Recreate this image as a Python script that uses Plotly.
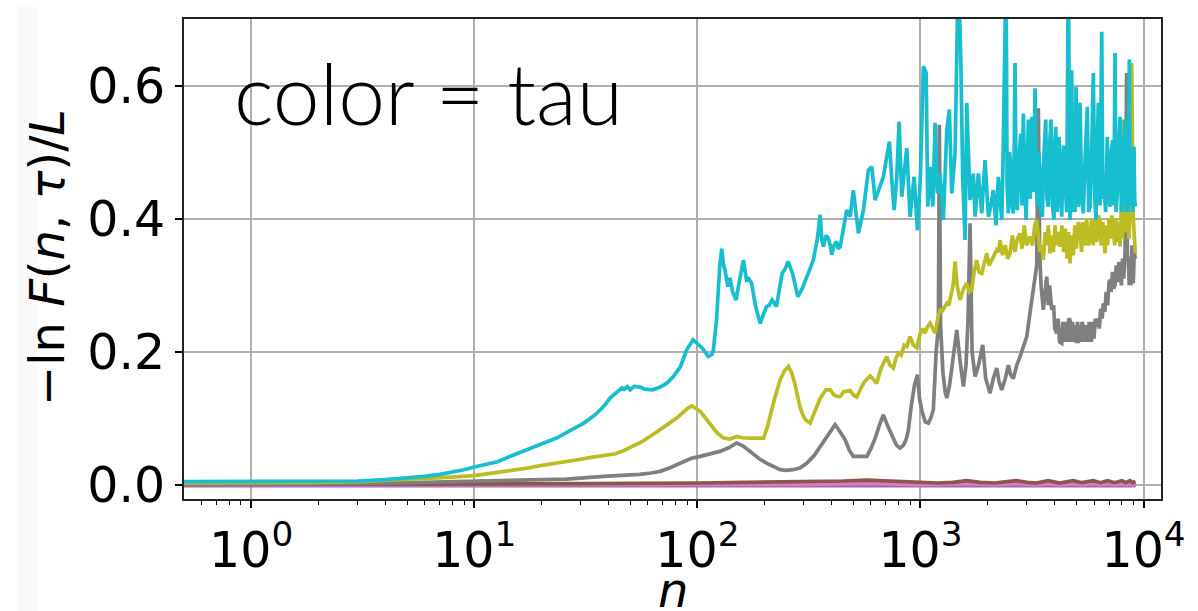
import plotly.graph_objects as go

# ---------------- data ----------------
cyan_n = [0.5, 1, 2, 3, 4, 5, 6, 7, 7.9, 9, 10, 11.3, 12.7, 15, 18, 20, 23.5, 27, 31, 35, 38, 40.7, 43, 45.9, 47, 48.5, 50, 52, 55.6, 58, 63, 68, 73, 78, 84, 89.6, 95.6, 100, 105, 112, 116, 118, 122, 126, 128.6, 131, 133, 137, 140, 144, 149, 155, 161, 166, 170, 175, 182, 191, 197, 204, 210, 216, 226, 233, 240, 248, 255, 267, 282, 295, 308, 320, 331, 345, 355, 361, 367, 377, 386, 394, 400, 410, 420, 428, 437,
          467, 484, 500, 527, 555, 584, 605, 626, 648, 682, 706, 726, 744, 762, 783, 802, 824, 844, 868, 898, 936, 969, 998, 1030, 1060, 1078, 1104, 1135, 1163, 1190, 1224, 1266, 1312, 1347, 1381, 1429, 1478, 1516, 1547, 1584, 1612, 1668, 1726, 1757, 1817, 1882, 1947, 2015, 2070, 2121, 2180, 2234,
          2313, 2340, 2369, 2418, 2445, 2476, 2510, 2546, 2575, 2607, 2630, 2653, 2685, 2717, 2765, 2814, 2850, 2891, 2930, 2973, 3010, 3044, 3100, 3153, 3210, 3262, 3300, 3340, 3390, 3434, 3475, 3517, 3580, 3642, 3690, 3741, 3790, 3847, 3905, 3968, 4000, 4038, 4100, 4178, 4240, 4296, 4370, 4444, 4520, 4598, 4640, 4680, 4720, 4763, 4820, 4877, 4930, 4979, 5040, 5099, 5145, 5190, 5280, 5369, 5480, 5596, 5670, 5754, 5850, 5953, 6040, 6121, 6190, 6266, 6380, 6491, 6570, 6647, 6760, 6877, 6970, 7071, 7170, 7270, 7360, 7445, 7530, 7623, 7730, 7839, 7950, 8060, 8150, 8253, 8350, 8451, 8540, 8627, 8730, 8843, 8950, 9057, 9120, 9180]
cyan_y = [0.005, 0.005, 0.0055, 0.006, 0.008, 0.0105, 0.013, 0.016, 0.019, 0.023, 0.027, 0.031, 0.035, 0.045, 0.056, 0.062, 0.071, 0.082, 0.093, 0.106, 0.118, 0.131, 0.138, 0.146, 0.144, 0.148, 0.143, 0.148, 0.147, 0.144, 0.143, 0.147, 0.153, 0.163, 0.178, 0.203, 0.218, 0.212, 0.206, 0.193, 0.196, 0.203, 0.25, 0.33, 0.355, 0.33, 0.323, 0.298, 0.311, 0.29, 0.278, 0.31, 0.338, 0.308, 0.31, 0.303, 0.27, 0.243, 0.255, 0.268, 0.27, 0.278, 0.268, 0.29, 0.318, 0.325, 0.336, 0.318, 0.283, 0.295, 0.313, 0.325, 0.338, 0.37, 0.406, 0.37, 0.358, 0.375, 0.371, 0.36, 0.346, 0.36, 0.366, 0.355, 0.358,
          0.413, 0.403, 0.443, 0.378, 0.413, 0.473, 0.478, 0.428, 0.443, 0.463, 0.493, 0.516, 0.458, 0.413, 0.463, 0.546, 0.433, 0.463, 0.506, 0.403, 0.463, 0.383, 0.458, 0.629, 0.619, 0.418, 0.478, 0.418, 0.544, 0.438, 0.468, 0.398, 0.533, 0.564, 0.438, 0.498, 0.78, 0.639, 0.458, 0.368, 0.574, 0.428, 0.468, 0.403, 0.468, 0.408, 0.488, 0.403, 0.42, 0.443, 0.39, 0.463,
          0.398, 0.47, 0.673, 0.78, 0.45, 0.408, 0.5, 0.473, 0.42, 0.408, 0.5, 0.634, 0.44, 0.413, 0.49, 0.528, 0.42, 0.558, 0.47, 0.398, 0.47, 0.549, 0.43, 0.553, 0.44, 0.596, 0.47, 0.418, 0.5, 0.473, 0.41, 0.403, 0.5, 0.549, 0.43, 0.418, 0.51, 0.549, 0.42, 0.398, 0.5, 0.538, 0.41, 0.523, 0.44, 0.403, 0.51, 0.468, 0.41, 0.78, 0.46, 0.398, 0.5, 0.623, 0.41, 0.448, 0.41, 0.598, 0.45, 0.418, 0.5, 0.574, 0.43, 0.408, 0.5, 0.568, 0.41, 0.418, 0.5, 0.619, 0.43, 0.398, 0.5, 0.574, 0.42, 0.681, 0.43, 0.448, 0.41, 0.523, 0.44, 0.418, 0.5, 0.518, 0.42, 0.649, 0.41, 0.438, 0.5, 0.553, 0.41, 0.428, 0.5, 0.549, 0.41, 0.448, 0.41, 0.639, 0.42, 0.488, 0.41, 0.508, 0.43, 0.418]

olive_n = [0.5, 1, 2, 3, 5, 7.9, 10, 13.6, 17, 20.5, 25, 29, 34, 38, 43, 47, 51.5, 57, 63, 69, 75, 81, 86.8, 91, 94.5, 98, 103, 109, 116, 123, 131, 140, 150, 160, 172, 185, 198, 205, 211, 222, 235, 246, 256, 265, 273, 280, 288, 297, 305, 320, 335, 355, 377, 394, 410, 425, 437, 452, 467, 484, 500, 518, 540, 560, 595, 615, 637, 665, 690, 706, 730, 756, 775, 796, 820, 845, 868, 898, 930, 962, 998, 1025, 1048, 1075, 1104, 1130, 1163, 1195, 1224, 1255, 1290, 1312, 1340, 1357, 1400, 1429, 1460, 1504, 1560, 1612, 1655, 1697, 1740, 1787, 1830, 1882, 1930, 1982, 2030, 2087, 2140, 2197, 2240, 2274, 2330, 2400, 2460, 2520, 2580, 2650, 2720, 2794, 2850, 2920, 2990, 3097, 3180, 3250, 3319, 3380, 3430, 3490, 3553, 3620, 3680, 3740, 3807, 3870, 3940, 4010, 4080, 4150, 4222, 4300, 4380, 4460, 4540, 4610, 4680, 4760, 4840, 4920, 5000, 5100, 5190, 5270, 5360, 5450, 5560, 5650, 5754, 5850, 5950, 6050, 6160, 6270, 6378, 6450, 6560, 6716, 6800, 6900, 7000, 7100, 7200, 7314, 7420, 7530, 7650, 7750, 7839, 7950, 8050, 8110, 8200, 8300, 8400, 8500, 8600, 8700, 8790, 8843, 8900, 8991, 9100, 9180]
olive_y = [0.003, 0.003, 0.004, 0.005, 0.008, 0.012, 0.014, 0.02, 0.025, 0.03, 0.034, 0.038, 0.042, 0.045, 0.047, 0.052, 0.058, 0.066, 0.0755, 0.084, 0.093, 0.101, 0.1105, 0.116, 0.119, 0.116, 0.1105, 0.1, 0.088, 0.078, 0.0705, 0.069, 0.073, 0.071, 0.0705, 0.071, 0.0705, 0.085, 0.103, 0.13, 0.158, 0.172, 0.178, 0.168, 0.153, 0.135, 0.118, 0.105, 0.098, 0.093, 0.11, 0.13, 0.143, 0.143, 0.135, 0.133, 0.133, 0.14, 0.141, 0.142, 0.135, 0.132, 0.145, 0.155, 0.164, 0.158, 0.153, 0.175, 0.185, 0.193, 0.18, 0.1755, 0.19, 0.198, 0.195, 0.21, 0.208, 0.223, 0.21, 0.206, 0.228, 0.235, 0.228, 0.238, 0.243, 0.235, 0.228, 0.25, 0.263, 0.262, 0.27, 0.273, 0.27, 0.278, 0.3, 0.336, 0.3, 0.278, 0.295, 0.303, 0.29, 0.293, 0.32, 0.338, 0.32, 0.318, 0.335, 0.348, 0.33, 0.338, 0.345, 0.353, 0.35, 0.368, 0.345, 0.36, 0.34, 0.348, 0.375, 0.35, 0.37, 0.378, 0.355, 0.39, 0.36, 0.373, 0.36, 0.39, 0.398, 0.37, 0.35, 0.36, 0.338, 0.38, 0.36, 0.39, 0.348, 0.375, 0.35, 0.39, 0.36, 0.38, 0.358, 0.39, 0.35, 0.385, 0.34, 0.38, 0.333, 0.375, 0.345, 0.39, 0.355, 0.395, 0.388, 0.35, 0.395, 0.36, 0.4, 0.36, 0.368, 0.4, 0.36, 0.4, 0.365, 0.405, 0.398, 0.36, 0.395, 0.348, 0.39, 0.36, 0.4, 0.37, 0.405, 0.388, 0.36, 0.4, 0.365, 0.395, 0.358, 0.42, 0.37, 0.549, 0.42, 0.38, 0.388, 0.42, 0.37, 0.4, 0.45, 0.634, 0.42, 0.4, 0.37, 0.348]

gray_n = [0.5, 1, 3, 6, 10, 18, 26, 38, 45, 55, 62, 68, 75, 84, 94, 103, 115, 126, 138, 150, 160, 170, 178, 190, 204, 220, 235, 250, 268, 288, 310, 335, 355, 375, 400, 414, 430, 460, 480, 500, 540, 575, 600, 626, 655, 682, 710, 746, 780, 810, 840, 865, 883, 910, 940, 969, 990, 1017, 1050, 1085, 1110, 1142, 1175, 1203, 1215, 1230, 1260, 1290, 1312, 1350, 1400, 1454, 1500, 1557, 1600, 1634, 1668, 1703, 1757, 1820, 1901, 1960, 2050, 2120, 2197, 2250, 2313, 2400, 2476, 2540, 2607, 2700, 2794, 2900, 2995, 3100, 3205, 3319, 3375, 3420, 3470, 3553, 3620, 3680, 3740, 3790, 3875, 3950, 4000, 4080, 4140, 4200, 4296, 4350, 4420, 4500, 4560, 4620, 4680, 4740, 4800, 4877, 4940, 5000, 5060, 5099, 5160, 5230, 5300, 5350, 5430, 5500, 5561, 5630, 5700, 5830, 5900, 5990, 6080, 6166, 6250, 6330, 6420, 6520, 6599, 6700, 6800, 6900, 7000, 7071, 7150, 7250, 7350, 7445, 7540, 7650, 7750, 7839, 7950, 8050, 8150, 8260, 8400, 8460, 8540, 8620, 8700, 8780, 8870, 8991, 9080, 9180]
gray_y = [0.001, 0.001, 0.002, 0.004, 0.006, 0.008, 0.009, 0.013, 0.014, 0.016, 0.018, 0.0205, 0.0255, 0.033, 0.04, 0.043, 0.047, 0.0505, 0.056, 0.063, 0.059, 0.052, 0.0455, 0.039, 0.033, 0.027, 0.023, 0.022, 0.023, 0.0255, 0.033, 0.045, 0.058, 0.07, 0.085, 0.0905, 0.083, 0.068, 0.052, 0.043, 0.043, 0.043, 0.055, 0.07, 0.09, 0.1055, 0.09, 0.075, 0.06, 0.0555, 0.06, 0.07, 0.083, 0.12, 0.15, 0.1655, 0.13, 0.11, 0.095, 0.093, 0.1, 0.113, 0.2, 0.238, 0.541, 0.24, 0.17, 0.14, 0.1305, 0.15, 0.19, 0.233, 0.19, 0.148, 0.18, 0.25, 0.393, 0.2, 0.163, 0.18, 0.2105, 0.16, 0.138, 0.16, 0.1755, 0.155, 0.143, 0.16, 0.18, 0.165, 0.16, 0.18, 0.193, 0.21, 0.223, 0.26, 0.298, 0.33, 0.566, 0.35, 0.3, 0.263, 0.29, 0.313, 0.27, 0.3, 0.263, 0.27, 0.235, 0.228, 0.25, 0.215, 0.213, 0.245, 0.215, 0.245, 0.215, 0.25, 0.248, 0.215, 0.245, 0.215, 0.24, 0.213, 0.245, 0.213, 0.24, 0.215, 0.245, 0.24, 0.215, 0.24, 0.233, 0.215, 0.245, 0.215, 0.245, 0.22, 0.25, 0.238, 0.25, 0.235, 0.265, 0.25, 0.273, 0.26, 0.29, 0.27, 0.305, 0.308, 0.29, 0.32, 0.295, 0.3, 0.33, 0.305, 0.335, 0.328, 0.3, 0.34, 0.31, 0.35, 0.619, 0.34, 0.343, 0.3, 0.34, 0.3, 0.36, 0.303, 0.35, 0.34]

pink_n = [0.5, 10, 100, 300, 575, 850, 1000, 1612, 2150, 2690, 3300, 3740, 4200, 4840, 5300, 5950, 6400, 6900, 7400, 8000, 8300, 8690, 8950, 9180]
pink_y = [0.0, 0.0, 0.0005, 0.001, 0.0025, 0.001, 0.0005, 0.002, 0.0005, 0.002, 0.0005, 0.002, 0.0005, 0.002, 0.0005, 0.002, 0.0005, 0.002, 0.0005, 0.002, 0.0005, 0.002, 0.0005, 0.0015]

brown_n = [0.5, 3, 10, 30, 100, 200, 300, 450, 575, 700, 850, 1000, 1200, 1400, 1612, 1850, 2150, 2450, 2690, 3000, 3300, 3740, 4200, 4840, 5300, 5950, 6400, 6900, 7400, 8000, 8300, 8690, 8950, 9180]
brown_y = [0.0005, 0.0008, 0.0015, 0.002, 0.003, 0.004, 0.005, 0.006, 0.0075, 0.0065, 0.005, 0.0035, 0.003, 0.004, 0.0065, 0.004, 0.003, 0.005, 0.0065, 0.004, 0.003, 0.0065, 0.003, 0.0065, 0.0035, 0.0065, 0.0035, 0.0065, 0.0035, 0.0065, 0.0035, 0.0065, 0.0035, 0.006]

purple_n = [0.5, 100, 1000, 9180]
purple_y = [-0.001, -0.001, -0.001, -0.001]

flat_n = [0.5, 9180]
flat_y = [0.0, 0.0]

x_tickvals = [1, 10, 100, 1000, 10000]
x_ticktext = ["10<sup>0</sup>", "10<sup>1</sup>", "10<sup>2</sup>", "10<sup>3</sup>", "10<sup>4</sup>"]
x_minor = [0.6, 0.7, 0.8, 0.9] + [m * d for d in (1, 10, 100, 1000) for m in range(2, 10)]
y_tickvals = [0.0, 0.2, 0.4, 0.6]
y_ticktext = ["0.0", "0.2", "0.4", "0.6"]

series = [
    (flat_n, flat_y, "#1f77b4"),
    (flat_n, flat_y, "#ff7f0e"),
    (flat_n, flat_y, "#2ca02c"),
    (flat_n, flat_y, "#d62728"),
    (purple_n, purple_y, "#9467bd"),
    (pink_n, pink_y, "#e377c2"),
    (brown_n, brown_y, "#8c564b"),
    (gray_n, gray_y, "#7f7f7f"),
    (olive_n, olive_y, "#bcbd22"),
    (cyan_n, cyan_y, "#17becf"),
]

fig = go.Figure()
for xs, ys, col in series:
    fig.add_trace(go.Scatter(x=xs, y=ys, mode="lines",
                             line=dict(color=col, width=3.7), showlegend=False,
                             hoverinfo="skip"))

W, H = 1198, 611
L, R, T, B = 184, 37, 19, 112
pw, ph = W - L - R, H - T - B

def px_x(p):
    return (p - L) / pw

def px_y(p):
    return (H - B - p) / ph

tick_font = dict(family="DejaVu Sans", size=49, color="black")

fig.update_layout(
    width=W, height=H, autosize=False,
    margin=dict(l=L, r=R, t=T, b=B, pad=0),
    paper_bgcolor="white", plot_bgcolor="white",
    showlegend=False,
    xaxis=dict(type="log", range=[-0.301, 4.078],
               tickmode="array", tickvals=x_tickvals, ticktext=x_ticktext,
               ticks="outside", ticklen=7, tickwidth=1.5, tickcolor="black",
               showgrid=True, gridcolor="#b0b0b0", gridwidth=1.6,
               showline=True, linecolor="#222222", linewidth=1.8, mirror=True,
               zeroline=False, tickfont=tick_font,
               minor=dict(tickmode="array", tickvals=x_minor, ticks="outside",
                          ticklen=4, tickwidth=1.2, tickcolor="black", showgrid=False)),
    yaxis=dict(range=[-0.021, 0.70],
               tickmode="array", tickvals=y_tickvals, ticktext=y_ticktext,
               ticks="outside", ticklen=7, tickwidth=1.5, tickcolor="black",
               showgrid=True, gridcolor="#b0b0b0", gridwidth=1.6,
               showline=True, linecolor="#222222", linewidth=1.8, mirror=True,
               zeroline=False, tickfont=tick_font),
    shapes=[dict(type="rect", xref="paper", yref="paper",
                 x0=px_x(17), x1=px_x(37), y0=px_y(611), y1=px_y(7),
                 fillcolor="#f9f9f9", line=dict(width=0), layer="below")],
    annotations=[
        dict(text="color = tau", x=px_x(232), y=px_y(40), xref="paper", yref="paper",
             xanchor="left", yanchor="top", showarrow=False,
             font=dict(family="Lato", size=84, color="black", weight=300)),
        dict(text="\u2212ln <i>F</i>(<i>n</i>, <i>\u03c4</i>)/<i>L</i>",
             x=px_x(47), y=px_y(258), xref="paper", yref="paper",
             xanchor="center", yanchor="middle", textangle=-90, showarrow=False,
             font=dict(family="DejaVu Sans", size=48, color="black")),
        dict(text="<i>n</i>", x=0.5, y=px_y(560), xref="paper", yref="paper",
             xanchor="center", yanchor="top", showarrow=False,
             font=dict(family="DejaVu Sans", size=48, color="black")),
    ],
)

fig.write_html("out.html")
